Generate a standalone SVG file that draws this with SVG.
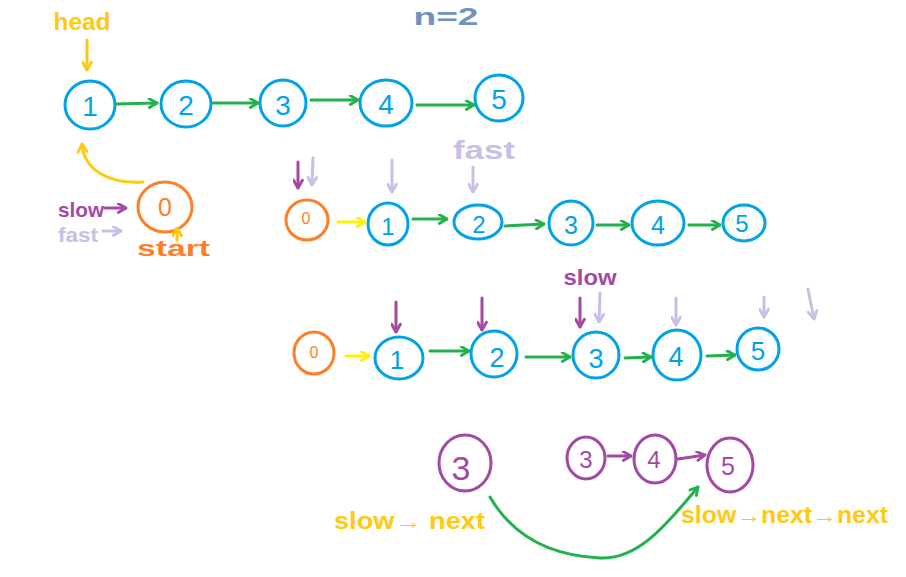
<svg xmlns="http://www.w3.org/2000/svg" width="906" height="577" viewBox="0 0 906 577">
<defs>
<style>
.bn{fill:none;stroke:#00a2e8;stroke-width:3}
.on{fill:none;stroke:#ff7f27;stroke-width:3}
.pn{fill:none;stroke:#a349a4;stroke-width:3}
.bt{fill:#00a2e8;font-family:"Liberation Sans",sans-serif;text-anchor:middle;dominant-baseline:central}
.ot{fill:#ff7f27;font-family:"Liberation Sans",sans-serif;text-anchor:middle;dominant-baseline:central}
.pt{fill:#a349a4;font-family:"Liberation Sans",sans-serif;text-anchor:middle;dominant-baseline:central}
.lbl{font-family:"Liberation Sans",sans-serif;font-weight:bold;dominant-baseline:central}
.g{fill:none;stroke:#22b14c;stroke-width:3;stroke-linecap:round;marker-end:url(#ag)}
.p{fill:none;stroke:#a349a4;stroke-width:3;stroke-linecap:round;marker-end:url(#ap)}
.l{fill:none;stroke:#c8bfe7;stroke-width:3;stroke-linecap:round;marker-end:url(#al)}
.y{fill:none;stroke:#ffc90e;stroke-width:3;stroke-linecap:round;marker-end:url(#ay)}
.yb{fill:none;stroke:#fff200;stroke-width:3;stroke-linecap:round;marker-end:url(#ayb)}
</style>
<marker id="ag" viewBox="0 0 10 10" refX="9" refY="5" markerWidth="11" markerHeight="11" markerUnits="userSpaceOnUse" orient="auto"><path d="M2 1 L9 5 L2 9" fill="none" stroke="#22b14c" stroke-width="2.6" stroke-linecap="round" stroke-linejoin="round"/></marker>
<marker id="ap" viewBox="0 0 10 10" refX="9" refY="5" markerWidth="11" markerHeight="11" markerUnits="userSpaceOnUse" orient="auto"><path d="M2 1 L9 5 L2 9" fill="none" stroke="#a349a4" stroke-width="2.6" stroke-linecap="round" stroke-linejoin="round"/></marker>
<marker id="al" viewBox="0 0 10 10" refX="9" refY="5" markerWidth="11" markerHeight="11" markerUnits="userSpaceOnUse" orient="auto"><path d="M2 1 L9 5 L2 9" fill="none" stroke="#c8bfe7" stroke-width="2.6" stroke-linecap="round" stroke-linejoin="round"/></marker>
<marker id="ay" viewBox="0 0 10 10" refX="9" refY="5" markerWidth="11" markerHeight="11" markerUnits="userSpaceOnUse" orient="auto"><path d="M2 1 L9 5 L2 9" fill="none" stroke="#ffc90e" stroke-width="2.6" stroke-linecap="round" stroke-linejoin="round"/></marker>
<marker id="ayb" viewBox="0 0 10 10" refX="9" refY="5" markerWidth="11" markerHeight="11" markerUnits="userSpaceOnUse" orient="auto"><path d="M2 1 L9 5 L2 9" fill="none" stroke="#fff200" stroke-width="2.6" stroke-linecap="round" stroke-linejoin="round"/></marker>
</defs>
<rect width="906" height="577" fill="#ffffff"/>

<!-- labels -->
<g id="labels">
<text class="lbl" x="82" y="21" fill="#ffc90e" font-size="24" text-anchor="middle" textLength="57" lengthAdjust="spacingAndGlyphs">head</text>
<text class="lbl" x="446" y="16" fill="#7092be" font-size="24" text-anchor="middle" textLength="65" lengthAdjust="spacingAndGlyphs">n=2</text>
<text class="lbl" x="58" y="209" fill="#a349a4" font-size="21" textLength="46" lengthAdjust="spacingAndGlyphs">slow</text>
<text class="lbl" x="58" y="234" fill="#c8bfe7" font-size="21" textLength="40" lengthAdjust="spacingAndGlyphs">fast</text>
<text class="lbl" x="137" y="248" fill="#ff7f27" font-size="22" textLength="73" lengthAdjust="spacingAndGlyphs">start</text>
<text class="lbl" x="484" y="150" fill="#c8bfe7" font-size="25" text-anchor="middle" textLength="62" lengthAdjust="spacingAndGlyphs">fast</text>
<text class="lbl" x="590" y="277" fill="#a349a4" font-size="22" text-anchor="middle" textLength="53" lengthAdjust="spacingAndGlyphs">slow</text>
<text class="lbl" x="334" y="521" fill="#ffc90e" font-size="23" textLength="151" lengthAdjust="spacingAndGlyphs">slow→ next</text>
<text class="lbl" x="681" y="515" fill="#ffc90e" font-size="23" textLength="207" lengthAdjust="spacingAndGlyphs">slow→next→next</text>
</g>

<!-- top row -->
<g id="t1"><ellipse class="bn" cx="90" cy="105" rx="25" ry="24"/><text class="bt" x="90" y="106" style="font-size:28px">1</text></g>
<g id="t2"><ellipse class="bn" cx="186" cy="104" rx="25" ry="23"/><text class="bt" x="186" y="105" style="font-size:28px">2</text></g>
<g id="t3"><ellipse class="bn" cx="283" cy="103" rx="23" ry="23"/><text class="bt" x="283" y="105" style="font-size:28px">3</text></g>
<g id="t4"><ellipse class="bn" cx="386" cy="103" rx="26" ry="23"/><text class="bt" x="386" y="104" style="font-size:28px">4</text></g>
<g id="t5"><ellipse class="bn" cx="499" cy="98" rx="24" ry="23"/><text class="bt" x="499" y="99" style="font-size:28px">5</text></g>
<g id="t0"><ellipse class="on" cx="165" cy="207" rx="27" ry="25"/><text class="ot" x="165" y="207" style="font-size:25px">0</text></g>

<!-- row 2 -->
<g id="a0"><ellipse class="on" cx="307" cy="220" rx="21" ry="20"/><text class="ot" x="306" y="218" style="font-size:16px">0</text></g>
<g id="a1"><ellipse class="bn" cx="388" cy="224" rx="20" ry="21"/><text class="bt" x="388" y="226" style="font-size:24px">1</text></g>
<g id="a2"><ellipse class="bn" cx="478" cy="222" rx="24" ry="17"/><text class="bt" x="479" y="224" style="font-size:24px">2</text></g>
<g id="a3"><ellipse class="bn" cx="571" cy="223" rx="22" ry="22"/><text class="bt" x="571" y="225" style="font-size:25px">3</text></g>
<g id="a4"><ellipse class="bn" cx="658" cy="223" rx="26" ry="22"/><text class="bt" x="658" y="225" style="font-size:25px">4</text></g>
<g id="a5"><ellipse class="bn" cx="744" cy="223" rx="21" ry="18"/><text class="bt" x="742" y="223" style="font-size:24px">5</text></g>

<!-- row 3 -->
<g id="b0"><ellipse class="on" cx="314" cy="353" rx="20" ry="21"/><text class="ot" x="314" y="352" style="font-size:16px">0</text></g>
<g id="b1"><ellipse class="bn" cx="399" cy="358" rx="24" ry="21"/><text class="bt" x="397" y="360" style="font-size:26px">1</text></g>
<g id="b2"><ellipse class="bn" cx="494" cy="354" rx="23" ry="23"/><text class="bt" x="497" y="358" style="font-size:27px">2</text></g>
<g id="b3"><ellipse class="bn" cx="596" cy="355" rx="23" ry="23"/><text class="bt" x="596" y="359" style="font-size:27px">3</text></g>
<g id="b4"><ellipse class="bn" cx="677" cy="355" rx="24" ry="25"/><text class="bt" x="676" y="357" style="font-size:27px">4</text></g>
<g id="b5"><ellipse class="bn" cx="758" cy="349" rx="21" ry="21"/><text class="bt" x="758" y="351" style="font-size:26px">5</text></g>

<!-- bottom -->
<g id="c3"><ellipse class="pn" cx="465" cy="463" rx="26" ry="28"/><text class="pt" x="461" y="468" style="font-size:34px">3</text></g>
<g id="d3"><ellipse class="pn" cx="586" cy="458" rx="19" ry="21"/><text class="pt" x="586" y="459" style="font-size:24px">3</text></g>
<g id="d4"><ellipse class="pn" cx="655" cy="459" rx="21" ry="24"/><text class="pt" x="654" y="459" style="font-size:24px">4</text></g>
<g id="d5"><ellipse class="pn" cx="730" cy="465" rx="23" ry="27"/><text class="pt" x="728" y="466" style="font-size:25px">5</text></g>

<!-- connectors -->
<g id="connectors">
<path class="y" d="M87 40 L87 70"/>
<path class="g" d="M116 104 L157 103"/>
<path class="g" d="M213 103 L258 103"/>
<path class="g" d="M311 100 L358 100"/>
<path class="g" d="M417 105 L474 105"/>
<path class="y" d="M143 182 C112 184 84 172 82 144"/>
<path class="p" d="M105 208 L126 208"/>
<path class="l" d="M103 231 L121 231"/>
<path class="y" d="M177 240 L177 228"/>

<path class="p" d="M298 162 L298 188"/>
<path class="l" d="M313 158 L312 185"/>
<path class="l" d="M392 160 L392 192"/>
<path class="l" d="M473 167 L473 192"/>
<path class="yb" d="M338 222 L365 222"/>
<path class="g" d="M413 219 L447 219"/>
<path class="g" d="M505 226 L544 224"/>
<path class="g" d="M597 225 L629 225"/>
<path class="g" d="M689 225 L720 225"/>

<path class="p" d="M396 302 L396 332"/>
<path class="p" d="M482 298 L482 330"/>
<path class="p" d="M580 298 L580 327"/>
<path class="l" d="M600 293 L599 322"/>
<path class="l" d="M676 298 L676 325"/>
<path class="l" d="M764 297 L764 317"/>
<path class="l" d="M808 289 L814 319"/>
<path class="yb" d="M346 356 L369 356"/>
<path class="g" d="M430 351 L469 351"/>
<path class="g" d="M526 357 L570 357"/>
<path class="g" d="M625 358 L651 357"/>
<path class="g" d="M707 356 L735 355"/>

<path class="p" d="M608 456 L631 456"/>
<path class="p" d="M678 459 L705 455"/>
<path class="g" d="M490 497 C515 540 555 556 600 558 C640 560 670 520 698 487"/>
</g>
</svg>
